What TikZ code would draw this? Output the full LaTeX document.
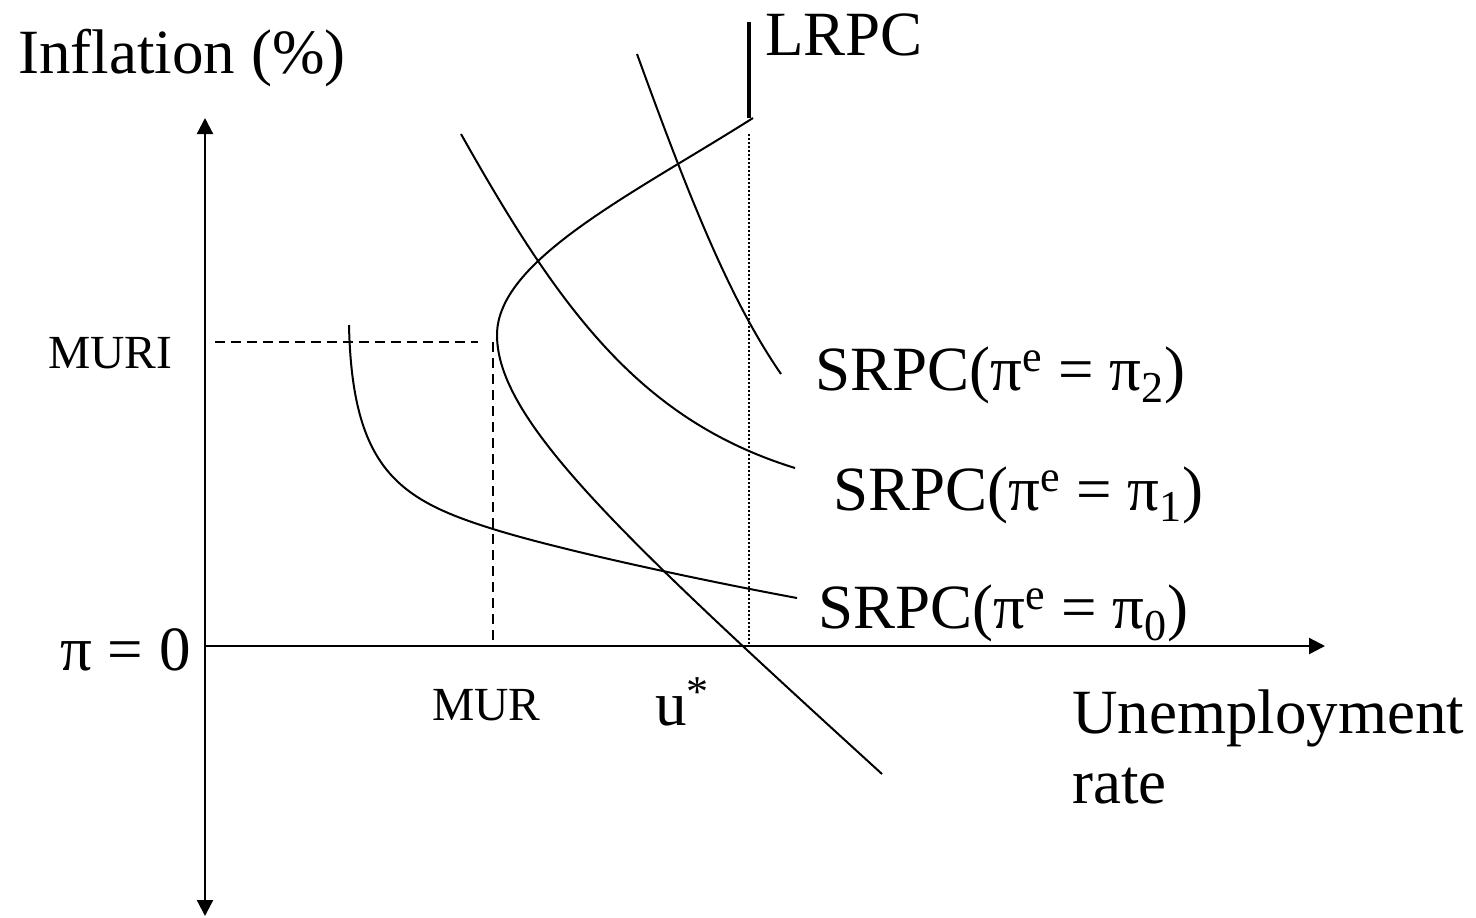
\documentclass[tikz,border=0pt]{standalone}
\usepackage{fontspec}
\setmainfont{Liberation Serif}
\usetikzlibrary{arrows.meta}
\begin{document}
\begin{tikzpicture}[x=0.5pt,y=-0.5pt,
  axis/.style={line width=1.1pt,-{Triangle[length=8pt,width=8pt]}},
  curve/.style={line width=1pt},
  guide/.style={line width=0.8pt,dash pattern=on 5pt off 3pt},
  dots/.style={line width=0.8pt,dash pattern=on 1pt off 1pt},
  big/.style={anchor=base west,inner sep=0pt,font=\fontsize{31.5}{35}\selectfont},
  small/.style={anchor=base west,inner sep=0pt,font=\fontsize{23.75}{26}\selectfont}]
\useasboundingbox (0,0) rectangle (1476,917);

% axes
\coordinate (O) at (205,646);
\coordinate (ytop) at (205,118);
\coordinate (ybot) at (205,916);
\coordinate (xend) at (1325,646);
\draw[axis] (O)--(ytop);
\draw[axis] (O)--(ybot);
\draw[axis] (O)--(xend);

% labels
\node[big] (infl) at (18,73){Inflation (\%)};
\node[big] (lrpc) at (765,55){LRPC};
\node[small] (muri) at (48,368){MURI};
\node[big] (pizero) at (60,670){π = 0};
\node[small] (mur) at (432,720){MUR};
\node[big] (ustar) at (655,725){u\textsuperscript{*}};
\node[big] (unemp) at (1072,733){Unemployment};
\node[big] (rate) at (1072,803){rate};
\node[big] (srpc2) at (815,390){SRPC(π\textsuperscript{e} = π\textsubscript{2})};
\node[big] (srpc1) at (833,510){SRPC(π\textsuperscript{e} = π\textsubscript{1})};
\node[big] (srpc0) at (818,628){SRPC(π\textsuperscript{e} = π\textsubscript{0})};

% LRPC
\coordinate (L1) at (749,22);
\coordinate (L2) at (749,118);
\coordinate (L3) at (749,134);
\coordinate (L4) at (749,646);
\draw[line width=1.7pt] (L1)--(L2);
\draw[dots] (L3)--(L4);

% MURI / MUR
\coordinate (M1) at (215,342);
\coordinate (M2) at (478,342);
\coordinate (M3) at (493,342);
\coordinate (M4) at (493,646);
\draw[guide] (M1)--(M2);
\draw[guide] (M3)--(M4);

% short-run curves
\coordinate (s2a) at (637,54);  \coordinate (s2b) at (781,374);
\coordinate (s1a) at (461,134); \coordinate (s1b) at (795,468);
\coordinate (s0a) at (349,325); \coordinate (s0m) at (493,529); \coordinate (s0b) at (797,598);
\draw[curve] (s2a) .. controls (690,200) and (730,300) .. (s2b);
\draw[curve] (s1a) .. controls (560,310) and (640,420) .. (s1b);
\draw[curve] (s0a) .. controls (352,470) and (400,500) .. (s0m)
                   .. controls (560,550) and (700,580) .. (s0b);

% path of actual inflation
\coordinate (pa) at (753,118);
\coordinate (pm) at (497,335);
\coordinate (pb) at (882,774);
\draw[curve] (pa) .. controls (633,194) and (497,260) .. (pm)
                  .. controls (497,420) and (620,535) .. (pb);
\end{tikzpicture}
\end{document}
